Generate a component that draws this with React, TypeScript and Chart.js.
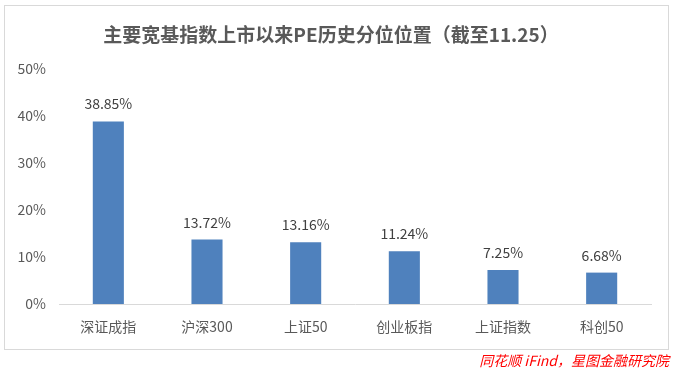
import React, { useEffect, useRef } from "react";
import { Chart, registerables } from "chart.js";

Chart.register(...registerables);

const categories = ["深证成指", "沪深300", "上证50", "创业板指", "上证指数", "科创50"];
const percentiles = [38.85, 13.72, 13.16, 11.24, 7.25, 6.68];
const yTicks = [0, 10, 20, 30, 40, 50];
const titleText = "主要宽基指数上市以来PE历史分位位置（截至11.25）";
const sourceText = "同花顺 iFind，星图金融研究院";

const FONT = '"Noto Sans CJK SC", "Noto Sans", sans-serif';

const decorPlugin = {
  id: "decor",
  beforeDraw(chart: any) {
    const ctx = chart.ctx;
    ctx.save();
    ctx.fillStyle = "#ffffff";
    ctx.fillRect(0, 0, chart.width, chart.height);
    ctx.strokeStyle = "#d9d9d9";
    ctx.lineWidth = 1;
    ctx.strokeRect(4.5, 5.5, 664, 344);
    ctx.fillStyle = "#595959";
    ctx.font = `bold 19px ${FONT}`;
    ctx.textAlign = "center";
    ctx.textBaseline = "middle";
    ctx.fillText(titleText, 331, 35);
    ctx.fillStyle = "#ff0000";
    ctx.font = `italic 14px ${FONT}`;
    ctx.textAlign = "right";
    ctx.textBaseline = "middle";
    ctx.fillText(sourceText, 669, 361);
    ctx.restore();
  },
  afterDatasetsDraw(chart: any) {
    const ctx = chart.ctx;
    const meta = chart.getDatasetMeta(0);
    const data = chart.data.datasets[0].data;
    ctx.save();
    ctx.fillStyle = "#404040";
    ctx.font = `14px ${FONT}`;
    ctx.textAlign = "center";
    ctx.textBaseline = "alphabetic";
    meta.data.forEach((bar: any, i: number) => {
      ctx.fillText(Number(data[i]).toFixed(2) + "%", bar.x, bar.y - 12);
    });
    ctx.restore();
  },
};

export default function App() {
  const ref = useRef<HTMLCanvasElement>(null);
  useEffect(() => {
    document.body.style.margin = "0";
    const chart = new Chart(ref.current!, {
      type: "bar",
      data: {
        labels: categories,
        datasets: [
          {
            data: percentiles,
            backgroundColor: "#4f81bd",
            barPercentage: 0.63,
            categoryPercentage: 0.5,
          },
        ],
      },
      options: {
        responsive: false,
        animation: false,
        devicePixelRatio: 1,
        layout: { padding: { top: 69, right: 23, left: 0, bottom: 0 } },
        plugins: {
          legend: { display: false },
          title: { display: false },
          tooltip: { enabled: false },
        },
        scales: {
          x: {
            grid: { display: false, drawTicks: false },
            border: { display: true, color: "#d9d9d9", width: 1 },
            ticks: { color: "#595959", font: { family: FONT, size: 14 }, padding: 14, maxRotation: 0 },
            afterFit: (s: any) => { s.height = 68; },
          },
          y: {
            min: 0,
            max: 50,
            afterBuildTicks: (s: any) => { s.ticks = yTicks.map((v) => ({ value: v })); },
            grid: { display: false, drawTicks: false },
            border: { display: false },
            ticks: {
              color: "#595959",
              font: { family: FONT, size: 14 },
              padding: 13,
              callback: (v: any) => v + "%",
            },
            afterFit: (s: any) => { s.width = 59; },
          },
        },
      },
      plugins: [decorPlugin],
    });
    return () => chart.destroy();
  }, []);
  return (
    <div style={{ width: 674, height: 372 }}>
      <canvas ref={ref} width={674} height={372} />
    </div>
  );
}
